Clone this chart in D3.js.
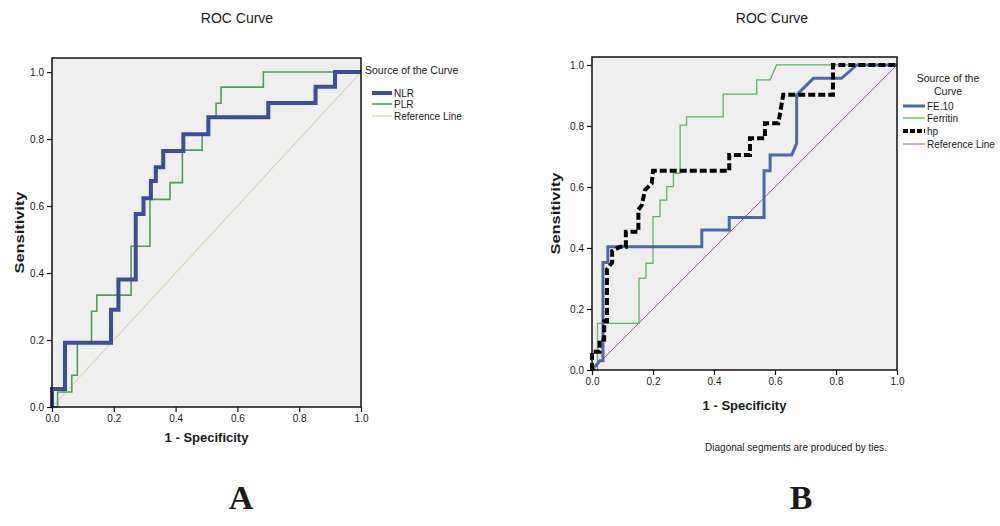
<!DOCTYPE html>
<html>
<head>
<meta charset="utf-8">
<script src="https://cdn.jsdelivr.net/npm/d3@7"></script>
<style>
  body { margin: 0; background: #fff; }
  text { font-family: "Liberation Sans", Arial, sans-serif; fill: #1a1a1a; }
</style>
</head>
<body>
<svg id="chart" width="1000" height="526"></svg>
<script>
// ---- data (1 - specificity, sensitivity) ----
const tickValues = [0, 0.2, 0.4, 0.6, 0.8, 1.0];

// panel A
const nlrFpr = [0, 0, 0.042, 0.042, 0.191, 0.191, 0.215, 0.215, 0.271, 0.271, 0.296, 0.296, 0.32, 0.32, 0.336, 0.336, 0.36, 0.36, 0.425, 0.425, 0.506, 0.506, 0.70, 0.70, 0.853, 0.853, 0.916, 0.916, 1];
const nlrTpr = [0, 0.054, 0.054, 0.192, 0.192, 0.29, 0.29, 0.381, 0.381, 0.576, 0.576, 0.623, 0.623, 0.675, 0.675, 0.716, 0.716, 0.764, 0.764, 0.814, 0.814, 0.865, 0.865, 0.908, 0.908, 0.956, 0.956, 1, 1];

const plrFpr = [0, 0.018, 0.018, 0.064, 0.064, 0.082, 0.082, 0.128, 0.128, 0.145, 0.145, 0.256, 0.256, 0.317, 0.317, 0.382, 0.382, 0.422, 0.422, 0.486, 0.486, 0.506, 0.506, 0.531, 0.531, 0.547, 0.547, 0.684, 0.684, 1];
const plrTpr = [0, 0, 0.045, 0.045, 0.095, 0.095, 0.192, 0.192, 0.286, 0.286, 0.334, 0.334, 0.48, 0.48, 0.62, 0.62, 0.67, 0.67, 0.767, 0.767, 0.814, 0.814, 0.862, 0.862, 0.907, 0.907, 0.955, 0.955, 1, 1];

// panel B
const fe10Fpr = [0, 0.026, 0.036, 0.036, 0.052, 0.052, 0.36, 0.36, 0.45, 0.45, 0.564, 0.564, 0.584, 0.584, 0.655, 0.671, 0.671, 0.726, 0.818, 0.868, 1];
const fe10Tpr = [0, 0.03, 0.03, 0.352, 0.352, 0.404, 0.404, 0.459, 0.459, 0.5, 0.5, 0.653, 0.653, 0.705, 0.705, 0.743, 0.902, 0.956, 0.956, 1, 1];

const ferritinFpr = [0, 0.018, 0.018, 0.154, 0.154, 0.177, 0.177, 0.2, 0.2, 0.223, 0.223, 0.245, 0.245, 0.267, 0.267, 0.289, 0.289, 0.31, 0.31, 0.43, 0.43, 0.54, 0.54, 0.584, 0.605, 1];
const ferritinTpr = [0, 0, 0.153, 0.153, 0.301, 0.301, 0.35, 0.35, 0.503, 0.503, 0.557, 0.557, 0.601, 0.601, 0.645, 0.645, 0.803, 0.803, 0.83, 0.83, 0.904, 0.904, 0.951, 0.951, 1, 1];

const hpFpr = [0, 0, 0.025, 0.025, 0.04, 0.04, 0.049, 0.049, 0.066, 0.066, 0.092, 0.111, 0.111, 0.152, 0.152, 0.163, 0.174, 0.196, 0.2, 0.45, 0.45, 0.518, 0.518, 0.567, 0.567, 0.611, 0.627, 0.79, 0.79, 1];
const hpTpr = [0, 0.06, 0.06, 0.10, 0.10, 0.16, 0.16, 0.33, 0.352, 0.39, 0.404, 0.404, 0.453, 0.453, 0.525, 0.54, 0.59, 0.612, 0.653, 0.653, 0.705, 0.705, 0.76, 0.76, 0.809, 0.809, 0.902, 0.902, 1, 1];

const refFpr = [0, 1];
const refTpr = [0, 1];

const zip = (xs, ys) => xs.map((x, i) => [x, ys[i]]);

const panels = [
  {
    left: 52, right: 361, top: 58, bottom: 407, yMax: 1.042,
    title: 'ROC Curve', titleX: 237,
    yTitleX: 20, yTitleLen: 82, xTitleY: 442,
    letter: 'A', letterX: 241,
    series: [
      {name: 'Reference Line', pts: zip(refFpr, refTpr), color: '#d6cb92', width: 1},
      {name: 'PLR', pts: zip(plrFpr, plrTpr), color: '#4f9e55', width: 1.6},
      {name: 'NLR', pts: zip(nlrFpr, nlrTpr), color: '#3b4d9c', width: 4}
    ],
    legendOrder: ['NLR', 'PLR', 'Reference Line'],
    legend: {x: 365, titleLines: ['Source of the Curve'], titleY: 74, anchor: 'start', lineX: 372, lineW: 20, itemY: [93, 104, 116]}
  },
  {
    left: 592, right: 897, top: 57, bottom: 370, yMax: 1.026,
    title: 'ROC Curve', titleX: 772,
    yTitleX: 556, yTitleLen: 82, xTitleY: 410,
    letter: 'B', letterX: 801,
    footnote: 'Diagonal segments are produced by ties.',
    series: [
      {name: 'Reference Line', pts: zip(refFpr, refTpr), color: '#a456a8', width: 1},
      {name: 'Ferritin', pts: zip(ferritinFpr, ferritinTpr), color: '#5cb862', width: 1.3},
      {name: 'FE.10', pts: zip(fe10Fpr, fe10Tpr), color: '#4c68ad', width: 3},
      {name: 'hp', pts: zip(hpFpr, hpTpr), color: '#000', width: 4, dash: '7,3'}
    ],
    legendOrder: ['FE.10', 'Ferritin', 'hp', 'Reference Line'],
    legend: {x: 948, titleLines: ['Source of the', 'Curve'], titleY: 82, anchor: 'middle', lineX: 903, lineW: 22, itemY: [106, 118, 131, 144]}
  }
];

const svg = d3.select('#chart');

panels.forEach(p => {
  const x = d3.scaleLinear().domain([0, 1]).range([p.left, p.right]);
  const y = d3.scaleLinear().domain([0, p.yMax]).range([p.bottom, p.top]);

  const g = svg.append('g');

  g.append('rect')
    .attr('x', p.left).attr('y', p.top)
    .attr('width', p.right - p.left).attr('height', p.bottom - p.top)
    .attr('fill', '#efefef');

  const line = d3.line().x(d => x(d[0])).y(d => y(d[1]));

  p.series.forEach(s => {
    g.append('path')
      .datum(s.pts)
      .attr('d', line)
      .attr('fill', 'none')
      .attr('stroke', s.color)
      .attr('stroke-width', s.width)
      .attr('stroke-dasharray', s.dash || null)
      .attr('stroke-linejoin', 'miter');
  });

  g.append('rect')
    .attr('x', p.left).attr('y', p.top)
    .attr('width', p.right - p.left).attr('height', p.bottom - p.top)
    .attr('fill', 'none').attr('stroke', '#111').attr('stroke-width', 1.5);

  const xAxis = g.append('g')
    .attr('transform', 'translate(0,' + p.bottom + ')')
    .call(d3.axisBottom(x).tickValues(tickValues).tickFormat(d3.format('.1f')).tickSize(5).tickPadding(3));
  const yAxis = g.append('g')
    .attr('transform', 'translate(' + p.left + ',0)')
    .call(d3.axisLeft(y).tickValues(tickValues).tickFormat(d3.format('.1f')).tickSize(5).tickPadding(3));
  [xAxis, yAxis].forEach(a => {
    a.select('.domain').remove();
    a.selectAll('line').attr('stroke', '#111').attr('stroke-width', 1.2);
    a.selectAll('text').style('font-family', '"Liberation Sans", Arial, sans-serif').style('font-size', '10px').attr('fill', '#222');
  });

  g.append('text')
    .attr('x', p.titleX).attr('y', 23)
    .attr('text-anchor', 'middle')
    .style('font-size', '14px')
    .text(p.title);

  g.append('text')
    .attr('transform', 'translate(' + p.yTitleX + ',' + ((p.top + p.bottom) / 2) + ') rotate(-90)')
    .attr('text-anchor', 'middle')
    .attr('dy', '0.35em')
    .attr('textLength', p.yTitleLen)
    .attr('lengthAdjust', 'spacingAndGlyphs')
    .style('font-size', '12px').style('font-weight', 'bold')
    .text('Sensitivity');

  g.append('text')
    .attr('x', (p.left + p.right) / 2).attr('y', p.xTitleY)
    .attr('text-anchor', 'middle')
    .style('font-size', '13px').style('font-weight', 'bold')
    .text('1 - Specificity');

  // legend
  const lg = p.legend;
  lg.titleLines.forEach((t, i) => {
    g.append('text')
      .attr('x', lg.x).attr('y', lg.titleY + i * 13)
      .attr('text-anchor', lg.anchor)
      .style('font-size', '10.5px')
      .text(t);
  });
  p.legendOrder.forEach((name, i) => {
    const s = p.series.find(d => d.name === name);
    const ly = lg.itemY[i];
    g.append('line')
      .attr('x1', lg.lineX).attr('x2', lg.lineX + lg.lineW)
      .attr('y1', ly).attr('y2', ly)
      .attr('stroke', s.color)
      .attr('stroke-width', s.width)
      .attr('stroke-dasharray', s.dash ? '5,2' : null);
    g.append('text')
      .attr('x', lg.lineX + lg.lineW + 2).attr('y', ly)
      .attr('dy', '0.35em')
      .style('font-size', '10px')
      .text(name);
  });

  if (p.footnote) {
    g.append('text')
      .attr('x', 796).attr('y', 451)
      .attr('text-anchor', 'middle')
      .style('font-size', '10px')
      .text(p.footnote);
  }

  g.append('text')
    .attr('x', p.letterX).attr('y', 509)
    .attr('text-anchor', 'middle')
    .style('font-family', '"Liberation Serif", "Times New Roman", serif')
    .style('font-size', '34px').style('font-weight', 'bold')
    .attr('fill', '#000')
    .text(p.letter);
});
</script>
</body>
</html>
